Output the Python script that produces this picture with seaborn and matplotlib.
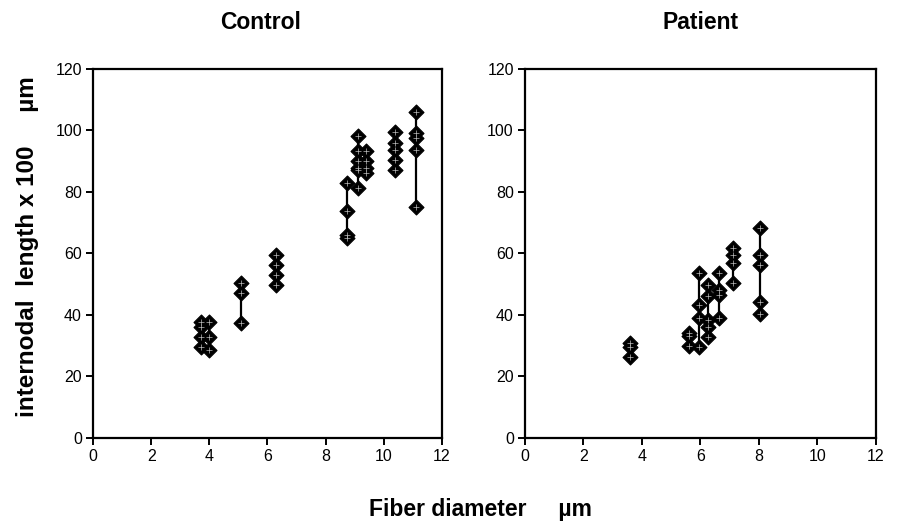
import matplotlib
matplotlib.use("Agg")
import matplotlib.pyplot as plt
import seaborn as sns
import pandas as pd

# Control data (fiber diameter, internodal length x100)
control_x = [3.7, 3.7, 3.7, 3.7,
             4.0, 4.0, 4.0,
             5.1, 5.1, 5.1,
             6.3, 6.3, 6.3, 6.3,
             8.75, 8.75, 8.75, 8.75,
             9.1, 9.1, 9.1, 9.1, 9.1, 9.1,
             9.4, 9.4, 9.4, 9.4,
             10.4, 10.4, 10.4, 10.4, 10.4,
             11.1, 11.1, 11.1, 11.1, 11.1]
control_y = [37.8, 36.2, 32.9, 29.6,
             37.8, 32.9, 28.6,
             50.3, 47.0, 37.3,
             59.5, 56.3, 53.0, 49.7,
             82.9, 73.6, 66.0, 65.0,
             98.0, 93.2, 89.9, 87.8, 87.2, 81.2,
             93.2, 89.9, 87.8, 86.1,
             99.3, 95.9, 93.5, 90.5, 87.0,
             105.9, 99.2, 97.5, 93.7, 75.2]

# Patient data
patient_x = [3.6, 3.6, 3.6,
             5.6, 5.6, 5.6,
             5.95, 5.95, 5.95, 5.95,
             6.25, 6.25, 6.25, 6.25, 6.25,
             6.65, 6.65, 6.65, 6.65,
             7.1, 7.1, 7.1, 7.1,
             8.05, 8.05, 8.05, 8.05, 8.05]
patient_y = [30.7, 29.6, 26.2,
             34.1, 33.0, 29.8,
             53.6, 43.2, 38.9, 29.4,
             49.7, 46.2, 38.3, 36.0, 32.9,
             53.6, 48.1, 46.6, 38.9,
             61.7, 59.5, 56.8, 50.3,
             68.3, 59.5, 56.3, 44.3, 40.3]

titles = ["Control", "Patient"]
x_ticks = [0, 2, 4, 6, 8, 10, 12]
y_ticks = [0, 20, 40, 60, 80, 100, 120]

sns.set_theme(style="ticks")
plt.rcParams['font.family'] = ['Liberation Sans', 'DejaVu Sans']
plt.rcParams['text.color'] = 'black'

fig = plt.figure(figsize=(8.98, 5.25), dpi=100)
ax1 = fig.add_axes([0.1036, 0.166, 0.3884, 0.703])
ax2 = fig.add_axes([0.5846, 0.166, 0.3909, 0.703])

datasets = [(control_x, control_y), (patient_x, patient_y)]
for ax, (xs, ys) in zip([ax1, ax2], datasets):
    df = pd.DataFrame({"x": xs, "y": ys})
    rng = df.groupby("x")["y"].agg(["min", "max"]).reset_index()
    ax.vlines(rng["x"], rng["min"], rng["max"], color="black", lw=1.6, zorder=2)
    sns.scatterplot(data=df, x="x", y="y", marker="D", s=58, color="black",
                    edgecolor="black", linewidth=0.8, ax=ax, zorder=3)
    sns.scatterplot(data=df, x="x", y="y", marker="+", s=14, color="#bbbbbb",
                    linewidth=0.5, ax=ax, zorder=4)
    ax.set_xlim(0, 12)
    ax.set_ylim(0, 120)
    ax.set_xticks(x_ticks)
    ax.set_yticks(y_ticks)
    ax.set_xlabel("")
    ax.set_ylabel("")
    for sp in ax.spines.values():
        sp.set_visible(True)
        sp.set_linewidth(1.6)
        sp.set_color("black")
    ax.tick_params(direction="out", length=5, width=1.4, labelsize=11.5,
                   colors="black", labelcolor="black", pad=3)

fig.text(0.29, 0.958, titles[0], ha="center", va="center",
         fontsize=16.5, fontweight="bold", color="black")
fig.text(0.78, 0.958, titles[1], ha="center", va="center",
         fontsize=16.5, fontweight="bold", color="black")
fig.text(0.535, 0.03, "Fiber diameter     µm", ha="center", va="center",
         fontsize=16.5, fontweight="bold", color="black")
fig.text(0.031, 0.53, "internodal  length x 100     µm", ha="center",
         va="center", rotation=90, fontsize=17.5, fontweight="bold",
         color="black")

fig.savefig("out.png", dpi=100)
